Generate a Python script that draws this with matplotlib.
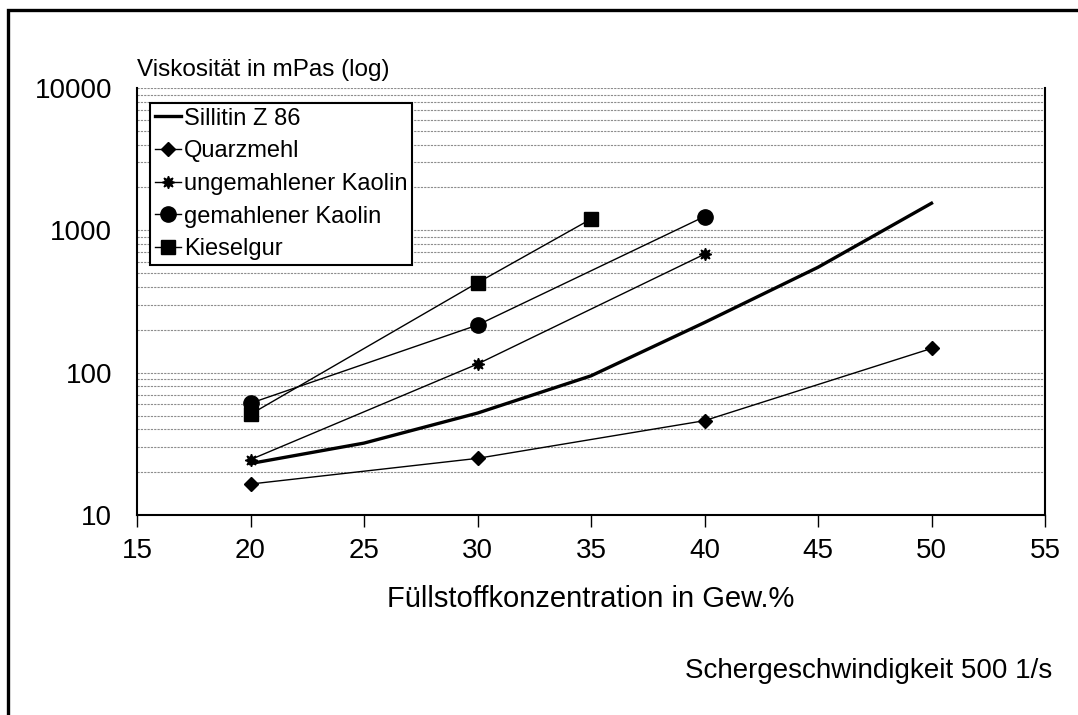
import matplotlib
matplotlib.use("Agg")
from matplotlib import pyplot as plt
from matplotlib.patches import Rectangle

plt.rcParams['font.family'] = ['Liberation Sans', 'DejaVu Sans']

# Sillitin Z 86 (thick line, no markers)
sill_x = [20, 25, 30, 35, 40, 45, 50]
sill_y = [23, 32, 52, 95, 225, 550, 1550]

quarz_x = [20, 30, 40, 50]
quarz_y = [16.5, 25, 46, 148]

ungem_x = [20, 30, 40]
ungem_y = [24.5, 115, 680]

gem_x = [20, 30, 40]
gem_y = [61, 216, 1250]

kiesel_x = [20, 30, 35]
kiesel_y = [51, 428, 1200]

W, H = 1078, 715
fig = plt.figure(figsize=(W / 100, H / 100), dpi=100)
ax = fig.add_axes([137 / W, 1 - 515 / H, (1045 - 137) / W, (515 - 88) / H])

ax.plot(sill_x, sill_y, "-", color="black", lw=2.4, label="Sillitin Z 86")
ax.plot(quarz_x, quarz_y, "-", color="black", lw=1.0, marker="D", ms=7.5,
        label="Quarzmehl")
ax.plot(ungem_x, ungem_y, "-", color="black", lw=1.0, marker=(8, 1, 0), ms=9,
        label="ungemahlener Kaolin")
ax.plot(gem_x, gem_y, "-", color="black", lw=1.0, marker="o", ms=11,
        label="gemahlener Kaolin")
ax.plot(kiesel_x, kiesel_y, "-", color="black", lw=1.0, marker="s", ms=10,
        label="Kieselgur")

ax.set_yscale("log")
ax.set_ylim(10, 10000)
ax.set_xlim(15, 55)
ax.set_xticks([15, 20, 25, 30, 35, 40, 45, 50, 55])
ax.set_yticks([10, 100, 1000, 10000])
ax.set_yticklabels(["10", "100", "1000", "10000"])
ax.yaxis.set_minor_formatter(matplotlib.ticker.NullFormatter())

ax.grid(True, which="both", axis="y", color="#8c8c8c", lw=0.8,
        linestyle=(0, (2, 1)))
ax.set_axisbelow(True)

ax.tick_params(axis="x", direction="out", length=8.5, width=1, pad=8,
               labelsize=20)
ax.tick_params(axis="y", which="both", length=0, pad=18, labelsize=20)
for s in ax.spines.values():
    s.set_linewidth(1.5)
ax.spines["top"].set_visible(False)

leg = ax.legend(loc="upper left", bbox_to_anchor=(150 / W, 1 - 103 / H),
                bbox_transform=fig.transFigure, fontsize=17, frameon=True,
                fancybox=False, framealpha=1, edgecolor="black",
                borderaxespad=0, borderpad=0.2, handlelength=1.1,
                handletextpad=0.15, labelspacing=0.45)
leg.get_frame().set_linewidth(1.5)

fig.text(137 / W, 1 - 76 / H, "Viskosität in mPas (log)", fontsize=17.5,
         va="baseline", ha="left")
fig.text(591 / W, 1 - 607 / H, "Füllstoffkonzentration in Gew.%",
         fontsize=21, va="baseline", ha="center")
fig.text(1052 / W, 1 - 678 / H, "Schergeschwindigkeit 500 1/s",
         fontsize=20, va="baseline", ha="right")

fig.add_artist(Rectangle((8 / W, -0.1), 1.2, 1.1 - 10 / H, fill=False,
                         lw=2.4, edgecolor="black", transform=fig.transFigure))

fig.savefig("out.png", dpi=100)
